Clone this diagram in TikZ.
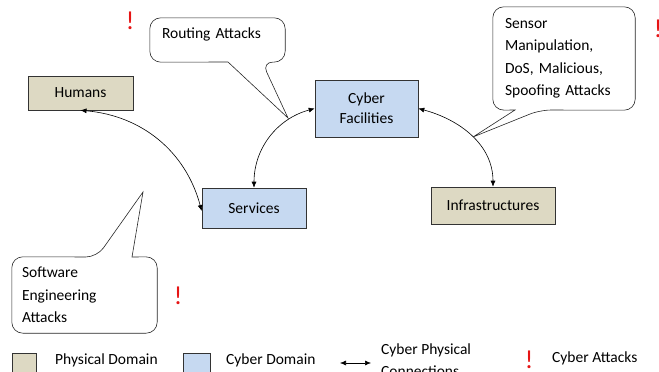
\documentclass[tikz,border=0pt]{standalone}
\usepackage{fontspec}
\setmainfont{Carlito}
\usetikzlibrary{arrows.meta, positioning, calc}
\definecolor{physbg}{RGB}{221,217,195}
\definecolor{cyberbg}{RGB}{198,217,241}
\definecolor{attackred}{RGB}{230,20,20}
\begin{document}
\begin{tikzpicture}[x=1pt, y=-1pt,
    dombox/.style={draw=black!80, semithick, minimum height=36pt, font=\fontsize{15.5}{20}\selectfont, align=center},
    note/.style={text width=#1, align=left, inner sep=0pt, font=\fontsize{15.5}{22.5}\selectfont},
    bubble/.style={draw=black!85, semithick, rounded corners=11pt},
    link/.style={{Latex[length=6pt,width=5pt]}-{Latex[length=6pt,width=5pt]}, semithick},
    alarm/.style={text=attackred, font=\fontsize{26}{26}\selectfont, inner sep=0pt}
]
  \useasboundingbox (0,0) rectangle (659,372);
  \clip (0,0) rectangle (659,372);

  % domains
  \node[dombox, fill=physbg, minimum width=105pt, minimum height=34pt] (humans) at (80.5,93) {Humans};
  \node[dombox, fill=cyberbg, minimum width=103pt, minimum height=57pt] (cyberfac) at (366.5,108.5) {Cyber\\Facilities};
  \node[dombox, fill=cyberbg, minimum width=104pt, minimum height=40pt] (services) at (254,208) {Services};
  \node[dombox, fill=physbg, minimum width=124pt, minimum height=37pt] (infra) at (493,205.5) {Infrastructures};

  % cyber physical connections
  \draw[link] (humans.south) to[out=-5, in=105] ([yshift=-3pt]services.west);
  \draw[link] (cyberfac.west) to[out=195, in=90] (services.north);
  \draw[link] (cyberfac.east) to[out=-15, in=90] (infra.north);

  % attack callouts
  \coordinate (routetip) at (288,118);
  \coordinate (sensortip) at (473,137);
  \coordinate (softtip) at (143,192);

  \node[note=111pt, minimum height=44pt, inner xsep=12pt] (routing) at (217.5,40) {\raisebox{1.5pt}[0pt][0pt]{Routing Attacks}};
  \draw[bubble] (228,62) -- (routing.south west) -- (routing.north west) -- (routing.north east)
    -- (routing.south east) -- (262,62) [sharp corners] -- (routetip) -- cycle;

  \node[note=118pt, minimum height=103pt, inner xsep=12pt] (sensor) at (564,58.5) {Sensor\\Manipulation,\\DoS, Malicious,\\Spoofing Attacks};
  \draw[bubble] (515,110) -- (sensor.south west) -- (sensor.north west) -- (sensor.north east)
    -- (sensor.south east) -- (540,110) [sharp corners] -- (sensortip) -- cycle;

  \node[note=125pt, minimum height=76pt, inner xsep=10pt] (software) at (84.5,295) {Software\\Engineering\\Attacks};
  \draw[bubble] (132,257) -- (software.north east) -- (software.south east) -- (software.south west)
    -- (software.north west) -- (97,257) [sharp corners] -- (softtip) -- cycle;

  % attack marks
  \node[alarm] (mark1) at (130,21) {!};
  \node[alarm] (mark2) at (658,29) {!};
  \node[alarm] (mark3) at (178,296) {!};

  % legend
  \node[draw=black!80, semithick, fill=physbg, minimum width=24pt, minimum height=24pt, inner sep=0pt] (legphys) at (24,365) {};
  \node[anchor=west, font=\fontsize{15.5}{18}\selectfont, inner sep=0pt] (legphystxt) at (55,360) {Physical Domain};
  \node[draw=black!80, semithick, fill=cyberbg, minimum width=27pt, minimum height=24pt, inner sep=0pt] (legcyber) at (196.5,365) {};
  \node[anchor=west, font=\fontsize{15.5}{18}\selectfont, inner sep=0pt] (legcybertxt) at (226,360) {Cyber Domain};
  \coordinate (legA) at (340,363);
  \coordinate (legB) at (371,363);
  \draw[link] (legA) -- (legB);
  \node[anchor=north west, align=left, font=\fontsize{15.5}{22}\selectfont, inner sep=0pt] (leglinktxt) at (381,344) {Cyber Physical\\Connections};
  \node[alarm] (legmark) at (529,360) {!};
  \node[anchor=west, font=\fontsize{15.5}{18}\selectfont, inner sep=0pt] (legattxt) at (552,358) {Cyber Attacks};
\end{tikzpicture}
\end{document}
